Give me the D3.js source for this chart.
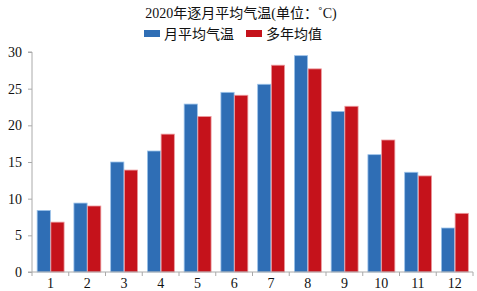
<html>
<head>
<style>
  body { margin: 0; background: #fff; }
  text { font-family: "Liberation Serif", "Noto Sans CJK SC", serif; fill: #111; }
</style>
</head>
<body>
<svg id="chart" width="477" height="291"></svg>
<script src="https://cdn.jsdelivr.net/npm/d3@7"></script>
<script>
const months = ["1", "2", "3", "4", "5", "6", "7", "8", "9", "10", "11", "12"]
const monthly = [8.4, 9.4, 15.0, 16.5, 22.9, 24.5, 25.6, 29.5, 21.9, 16.0, 13.6, 6.0]
const normal = [6.8, 9.0, 13.9, 18.8, 21.2, 24.1, 28.2, 27.7, 22.6, 18.0, 13.1, 8.0]
const seriesNames = ["月平均气温", "多年均值"]
const yTicks = [0, 5, 10, 15, 20, 25, 30]

const colors = ["#2f6eb5", "#c5121b"]
const strokes = ["#9cc3ea", "#ec9a9e"]

let svg = d3.select("#chart")
let mLeft = 32, mRight = 473, mTop = 52, mBottom = 272

let x = d3.scaleBand().domain(months).range([mLeft, mRight]).paddingInner(0).paddingOuter(0)
let y = d3.scaleLinear().domain([0, 30]).range([mBottom, mTop])
let inner = d3.scaleBand().domain([0, 1]).range([0, x.bandwidth()]).paddingOuter(0.34).paddingInner(0)

let data = months.map((m, i) => ({ m: m, vals: [monthly[i], normal[i]] }))

let groups = svg.selectAll(".grp").data(data).enter().append("g")
    .attr("transform", d => "translate(" + x(d.m) + ",0)")

groups.selectAll("rect").data(d => d.vals).enter().append("rect")
    .attr("x", (d, i) => inner(i) + 0.5)
    .attr("width", inner.bandwidth() - 0.5)
    .attr("y", d => y(d))
    .attr("height", d => mBottom - y(d))
    .attr("fill", (d, i) => colors[i])
    .attr("stroke", (d, i) => strokes[i])
    .attr("stroke-width", 0.8)

// y axis
let yAxis = svg.append("g").attr("transform", "translate(" + mLeft + ",0)")
    .call(d3.axisLeft(y).tickValues(yTicks).tickSize(4).tickPadding(6))
yAxis.selectAll("path, line").attr("stroke", "#aaa")
yAxis.select(".domain").attr("d", "M-4," + mTop + "H0V" + mBottom + "H-4")
yAxis.selectAll("text").style("font-size", "14px").style("font-family", "Liberation Serif")

// x axis
let xAxis = svg.append("g").attr("transform", "translate(0," + mBottom + ")")
    .call(d3.axisBottom(x).tickSize(0).tickPadding(6))
xAxis.select(".domain").attr("stroke", "#aaa").attr("d", "M" + mLeft + ",0H" + mRight)
xAxis.selectAll("text").style("font-size", "14px").style("font-family", "Liberation Serif")
svg.append("g").selectAll("line").data(d3.range(months.length + 1)).enter().append("line")
    .attr("x1", i => mLeft + i * x.bandwidth()).attr("x2", i => mLeft + i * x.bandwidth())
    .attr("y1", mBottom).attr("y2", mBottom + 4)
    .attr("stroke", "#aaa")

// title
svg.append("text").attr("x", 241).attr("y", 18).attr("text-anchor", "middle")
    .style("font-size", "14px")
    .text("2020年逐月平均气温(单位：˚C)")

// legend
let legX = [144, 246]
seriesNames.forEach((name, i) => {
    svg.append("rect").attr("x", legX[i]).attr("y", 30).attr("width", 16).attr("height", 7)
        .attr("fill", colors[i])
    svg.append("text").attr("x", legX[i] + 20).attr("y", 39)
        .style("font-size", "14px").style("font-family", "Noto Sans CJK SC")
        .text(name)
})
</script>
</body>
</html>
